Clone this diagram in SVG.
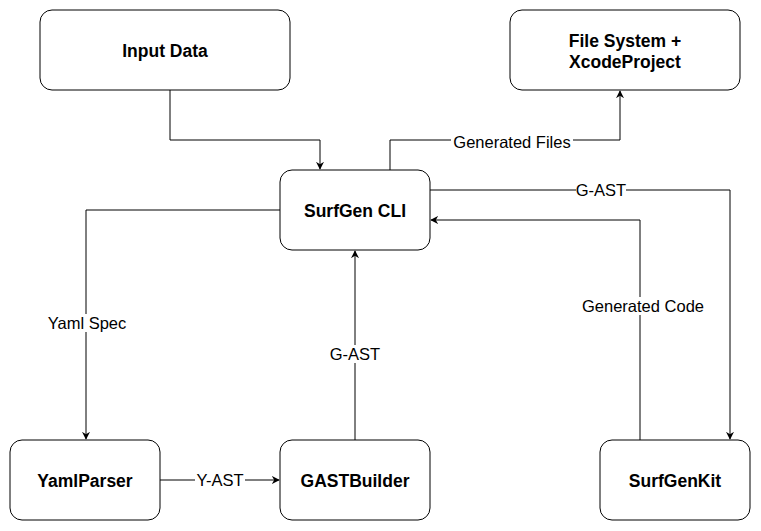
<svg xmlns="http://www.w3.org/2000/svg" width="761" height="531" viewBox="0 0 761 531">
<style>
.node rect{fill:#fff;stroke:#000;stroke-width:1}
.node text{font-family:"Liberation Sans",Arial,sans-serif;font-weight:bold;font-size:17.5px;text-anchor:middle;dominant-baseline:central;fill:#000}
.edge{fill:none;stroke:#000;stroke-width:1}
.lbl{font-family:"Liberation Sans",Arial,sans-serif;font-size:16.5px;text-anchor:middle;dominant-baseline:central;fill:#000}
.bg{fill:#fff}
</style>
<defs>
<marker id="arr" viewBox="0 0 10 10" refX="9" refY="5" markerWidth="8" markerHeight="8" markerUnits="userSpaceOnUse" orient="auto">
<path d="M0,0 L10,5 L0,10 L3,5 Z" fill="#000"/>
</marker>
</defs>
<rect width="761" height="531" fill="#fff"/>
<g id="connectors">
<path class="edge" d="M170,90 V140 H320 V169" marker-end="url(#arr)"/>
<path class="edge" d="M390,170 V140 H620 V91" marker-end="url(#arr)"/>
<path class="edge" d="M430,190 H730 V439" marker-end="url(#arr)"/>
<path class="edge" d="M640,440 V220 H431" marker-end="url(#arr)"/>
<path class="edge" d="M280,210 H86 V439" marker-end="url(#arr)"/>
<path class="edge" d="M160,480 H279" marker-end="url(#arr)"/>
<path class="edge" d="M355,440 V251" marker-end="url(#arr)"/>
<rect class="bg" x="451" y="132" width="122" height="18"/>
<text class="lbl" x="512" y="142">Generated Files</text>
<rect class="bg" x="576" y="181" width="50" height="18"/>
<text class="lbl" x="601" y="190">G-AST</text>
<rect class="bg" x="579" y="297" width="128" height="18"/>
<text class="lbl" x="643" y="306">Generated Code</text>
<rect class="bg" x="46" y="314" width="82" height="18"/>
<text class="lbl" x="87" y="323">Yaml Spec</text>
<rect class="bg" x="195" y="471" width="50" height="18"/>
<text class="lbl" x="220" y="480">Y-AST</text>
<rect class="bg" x="330" y="345" width="50" height="18"/>
<text class="lbl" x="355" y="354">G-AST</text>
</g>
<g id="input-data" class="node"><rect x="40" y="10" width="250" height="80" rx="12"/><text x="165" y="51">Input Data</text></g>
<g id="file-system" class="node"><rect x="510" y="10" width="230" height="80" rx="12"/><text x="625" y="41">File System +</text><text x="625" y="62">XcodeProject</text></g>
<g id="surfgen-cli" class="node"><rect x="280" y="170" width="150" height="80" rx="12"/><text x="355" y="211">SurfGen CLI</text></g>
<g id="yamlparser" class="node"><rect x="10" y="440" width="150" height="80" rx="12"/><text x="85" y="481">YamlParser</text></g>
<g id="gastbuilder" class="node"><rect x="280" y="440" width="150" height="80" rx="12"/><text x="355" y="481">GASTBuilder</text></g>
<g id="surfgenkit" class="node"><rect x="600" y="440" width="150" height="80" rx="12"/><text x="675" y="481">SurfGenKit</text></g>
</svg>
